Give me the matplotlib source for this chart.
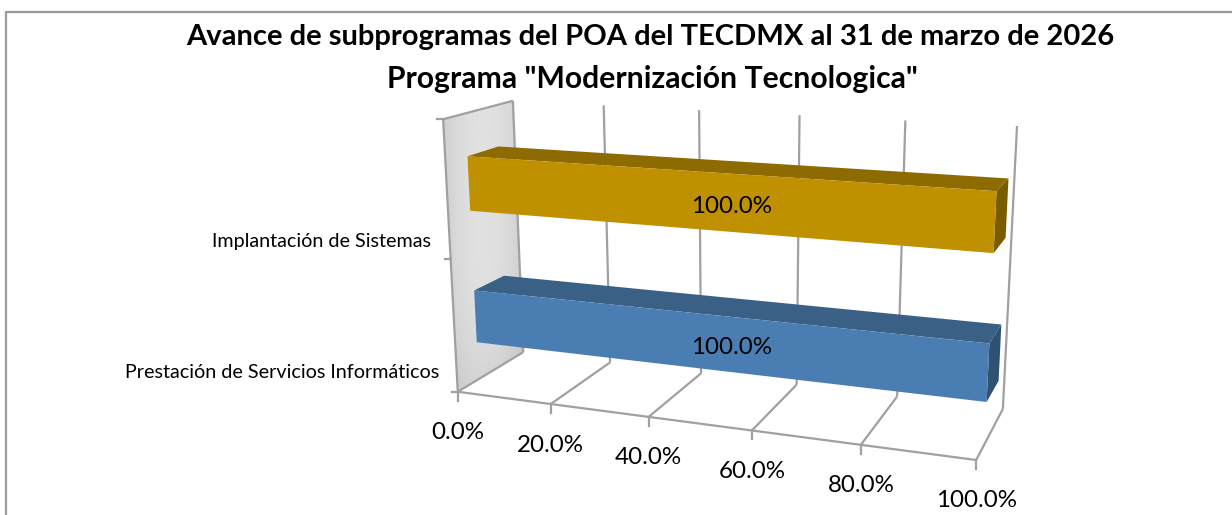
#!/usr/bin/env python
# -*- coding: utf-8 -*-
import matplotlib
matplotlib.use("Agg")
import matplotlib.pyplot as plt
from matplotlib.patches import Polygon
import numpy as np

plt.rcParams["font.family"] = ["Lato", "DejaVu Sans"]

####################################################
# Data

title_lines = [
    "Avance de subprogramas del POA del TECDMX al 31 de marzo de 2026",
    'Programa "Modernización Tecnologica"',
]
categories = ["Prestación de Servicios Informáticos", "Implantación de Sistemas"]
values = [100.0, 100.0]
value_ticks = [0, 20, 40, 60, 80, 100]

face_colors = ["#4a7eb3", "#bf9000"]
top_colors = ["#3a6085", "#8e6b00"]
side_colors = ["#2f5272", "#7a5c00"]
line_color = "#a0a0a0"

W, H = 1232, 515

####################################################
# Perspective camera, fitted on the box corners seen in the picture
# (value, depth, height) -> pixel

box_corners = np.array([
    [0, 0, 0], [100, 0, 0], [0, 1, 0], [100, 1, 0],
    [0, 1, 1], [100, 1, 1], [0, 0, 1],
], dtype=float)
box_pixels = np.array([
    [458, 392], [976, 460], [523, 352], [1003, 409],
    [513, 101], [1017, 126], [443, 119],
], dtype=float)


def fit_camera(pts, px):
    rows = []
    rhs = []
    for (a, b, c), (u, v) in zip(pts, px):
        rows.append([a, b, c, 1, 0, 0, 0, 0, -u * a, -u * b, -u * c])
        rows.append([0, 0, 0, 0, a, b, c, 1, -v * a, -v * b, -v * c])
        rhs += [u, v]
    sol = np.linalg.lstsq(np.array(rows), np.array(rhs), rcond=None)[0]
    return np.append(sol, 1.0).reshape(3, 4)


camera = fit_camera(box_corners, box_pixels)


def project(val, depth, height):
    p = camera @ np.array([val, depth, height, 1.0])
    return p[0] / p[2], p[1] / p[2]


def line3d(ax, a, b, lw=1.6):
    pa, pb = project(*a), project(*b)
    ax.plot([pa[0], pb[0]], [pa[1], pb[1]], color=line_color, lw=lw,
            solid_capstyle="butt", zorder=2)


fig = plt.figure(figsize=(W / 100, H / 100), dpi=100)
ax = fig.add_axes([0, 0, 1, 1])
ax.set_xlim(0, W)
ax.set_ylim(H, 0)
ax.axis("off")

# chart frame, only top and left are in the crop
ax.plot([5.5, 5.5, W], [H, 11.5, 11.5], color="#9a9a9a", lw=1.6, zorder=1)

# side wall with its soft gradient
wall = Polygon([project(0, 0, 0), project(0, 1, 0), project(0, 1, 1), project(0, 0, 1)],
               closed=True, transform=ax.transData, fc="none", ec="none")
ax.add_patch(wall)
gx, gy = np.meshgrid(np.linspace(-1, 1, 60), np.linspace(-1, 1, 60))
shade = 0.88 - 0.08 * gx ** 2 - 0.06 * np.clip(gy, 0, 1) ** 2
im = ax.imshow(shade, cmap="gray", vmin=0, vmax=1, extent=[440, 526, 400, 98],
               aspect="auto", interpolation="bilinear", zorder=1)
im.set_clip_path(wall)
ax.set_xlim(0, W)
ax.set_ylim(H, 0)

# box lines
for t in value_ticks:
    line3d(ax, (t, 0, 0), (t, 1, 0))
    line3d(ax, (t, 1, 0), (t, 1, 1))
line3d(ax, (0, 0, 0), (100, 0, 0))
line3d(ax, (0, 0, 0), (0, 0, 1))
line3d(ax, (0, 0, 1), (0, 1, 1))

# ticks
for t in value_ticks:
    x, y = project(t, 0, 0)
    ax.plot([x, x], [y, y + 9], color=line_color, lw=1.6, zorder=2)
    ax.text(x, y + 41, "%.1f%%" % t, ha="center", va="center", fontsize=17.4, color="black")
for h in [0, 0.5, 1]:
    x, y = project(0, 0, h)
    ax.plot([x - 6, x], [y, y], color=line_color, lw=1.6, zorder=2)

# bars
bar_h = 0.2
bar_d0, bar_d1 = 0.30, 0.75
n = len(categories)
for i, (cat, val) in enumerate(zip(categories, values)):
    mid = (i + 0.5) / n - 0.005
    z0, z1 = mid - bar_h / 2, mid + bar_h / 2
    top = [project(0, bar_d0, z1), project(val, bar_d0, z1),
           project(val, bar_d1, z1), project(0, bar_d1, z1)]
    side = [project(val, bar_d0, z0), project(val, bar_d1, z0),
            project(val, bar_d1, z1), project(val, bar_d0, z1)]
    face = [project(0, bar_d0, z0), project(val, bar_d0, z0),
            project(val, bar_d0, z1), project(0, bar_d0, z1)]
    ax.add_patch(Polygon(top, closed=True, fc=top_colors[i], ec="none", zorder=3))
    ax.add_patch(Polygon(side, closed=True, fc=side_colors[i], ec="none", zorder=3))
    ax.add_patch(Polygon(face, closed=True, fc=face_colors[i], ec="none", zorder=4))
    lx, ly = project(val / 2, bar_d0, mid)
    ax.text(lx + 17, ly + 5, "%.1f%%" % val, ha="center", va="center", fontsize=17.4,
            color="black", zorder=5)

ax.text(439, 373, categories[0], ha="right", va="center", fontsize=14.2, color="black")
ax.text(431, 241, categories[1], ha="right", va="center", fontsize=14.2, color="black")

ax.text(650, 37, title_lines[0], ha="center", va="center", fontsize=21, fontweight="bold")
ax.text(652, 79, title_lines[1], ha="center", va="center", fontsize=21.7, fontweight="bold")

fig.savefig("out.png", dpi=100)
plt.close("all")
